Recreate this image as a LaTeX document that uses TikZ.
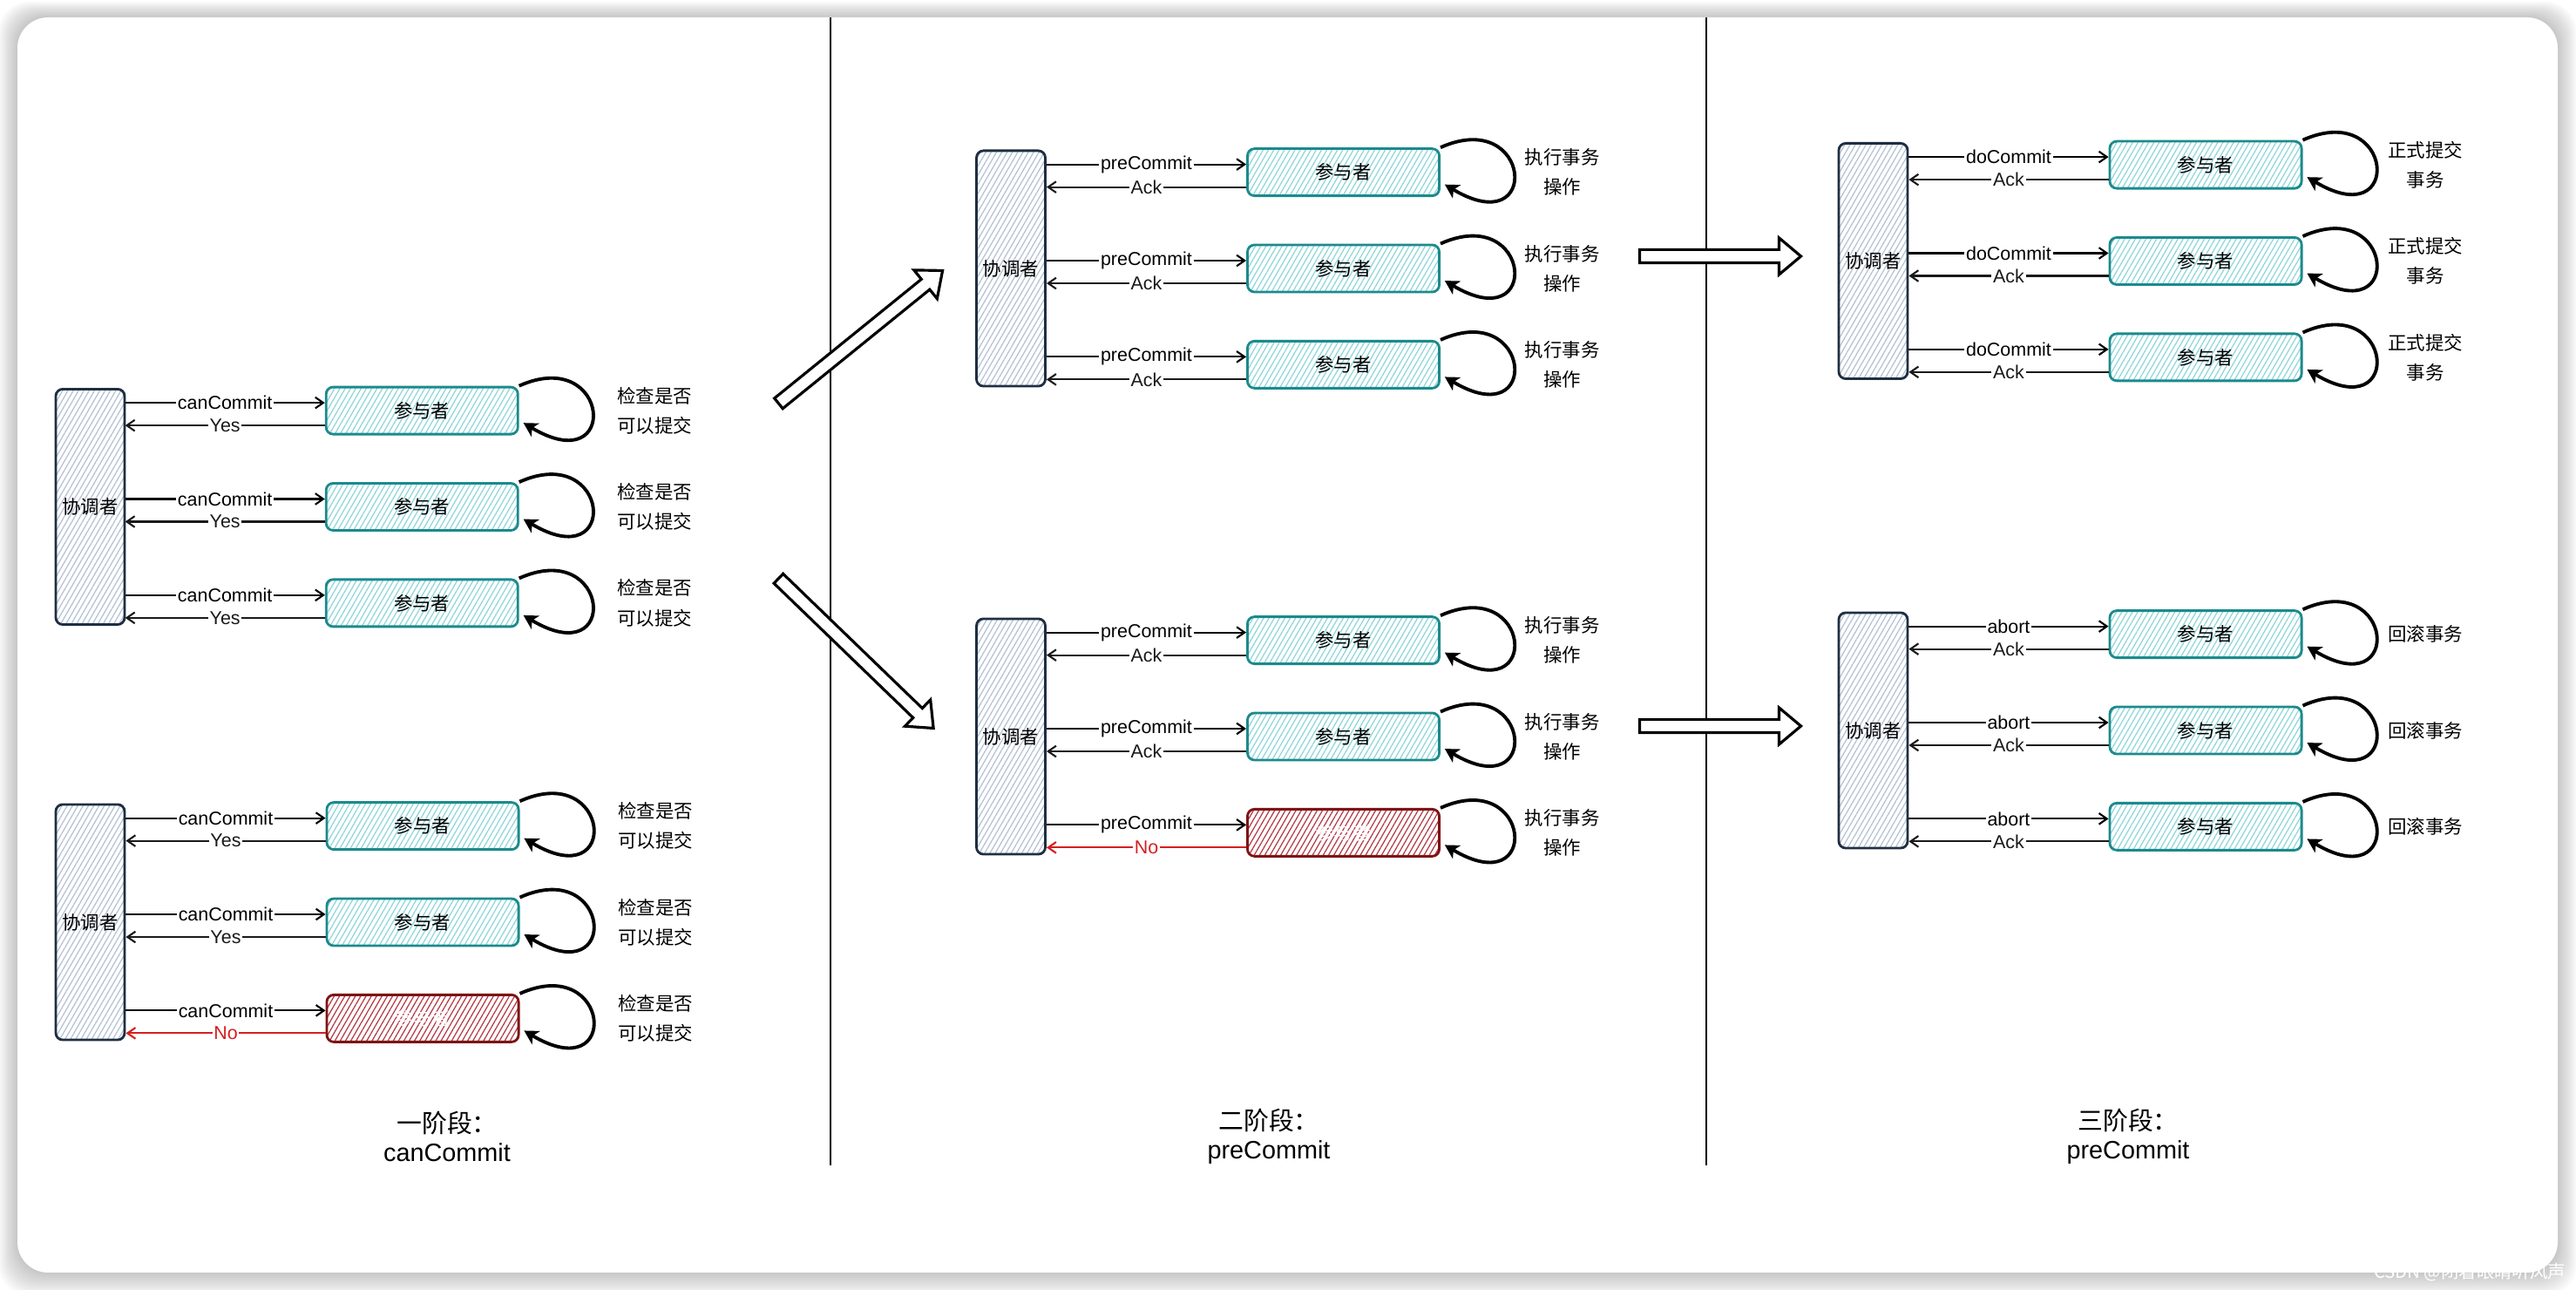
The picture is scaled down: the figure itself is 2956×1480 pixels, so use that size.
\documentclass[tikz,border=0pt]{standalone}
\usepackage{fontspec}
\setmainfont{Liberation Sans}
\newfontfamily\cjk{Noto Sans CJK SC}
\usetikzlibrary{positioning,patterns.meta,shapes.arrows,arrows.meta}

\definecolor{coordline}{HTML}{1F2E42}
\definecolor{coordhatch}{HTML}{B4C2D3}
\definecolor{tealline}{HTML}{1C8A8C}
\definecolor{tealhatch}{HTML}{8FD6DA}
\definecolor{tealtext}{HTML}{000000}
\definecolor{tealreply}{HTML}{1A1A1A}
\definecolor{redline}{HTML}{7D1414}
\definecolor{redhatch}{HTML}{B23A48}
\definecolor{redtext}{HTML}{FFFFFF}
\definecolor{redreply}{HTML}{D42020}
\newcommand{\cnsize}{\fontsize{6.1}{7}\selectfont}

\begin{document}
\begin{tikzpicture}[x=0.01cm,y=-0.01cm]
\tikzstyle{coord}=[rectangle, rounded corners=2.3pt, draw=coordline, line width=0.8pt, pattern={Lines[angle=60,distance=1.5pt,line width=0.35pt]}, pattern color=coordhatch, minimum width=0.79cm, minimum height=2.7cm, inner sep=0pt, font=\cjk\cnsize]
\tikzset{part/.style={rectangle, rounded corners=2.3pt, draw=#1line, line width=0.8pt, pattern={Lines[angle=60,distance=1.5pt,line width=0.35pt]}, pattern color=#1hatch, text=#1text, minimum width=2.2cm, minimum height=0.54cm, inner sep=0pt, font=\cjk\cnsize},
  reply/.style={-{Straight Barb[length=2.6pt,width=3.6pt]}, line width=0.6pt, draw=#1reply}}
\tikzstyle{ask}=[-{Straight Barb[length=2.6pt,width=3.6pt]}, line width=0.6pt]
\tikzstyle{msg}=[fill=white, inner sep=0.5pt, font=\cnsize]
\tikzstyle{selfloop}=[line width=1.1pt, -{Stealth[length=4.5pt,width=5pt,inset=1.2pt]}]
\tikzstyle{memo}=[align=center, inner sep=0pt, font=\cjk\fontsize{6.1}{9.7}\selectfont]
\tikzstyle{bigarrow}=[single arrow, draw=black, line width=0.9pt, fill=white, inner xsep=0pt, inner ysep=0.06cm, single arrow head extend=0.135cm, single arrow tip angle=80]
\tikzstyle{stage}=[align=center, font=\fontsize{8.2}{9.4}\selectfont]

\useasboundingbox (0,0) rectangle (2956,1480);
% card and its shadow
\foreach \i in {1,...,12}
  \fill[black, opacity=0.02, rounded corners=10pt] (20-1.8*\i,20-1.5*\i) rectangle (2935+1.8*\i,1460+2.2*\i);
\fill[white, rounded corners=10pt] (20,20) rectangle (2935,1460);

% stage separators
\draw[line width=0.5pt] (953,20) -- (953,1337);
\draw[line width=0.5pt] (1958,20) -- (1958,1337);

% one coordinator with three participants per group
\foreach \g/\cx/\cy/\cmd/\rep/\lastc/\lastrep/\gap/\memo in {
    1/103.5/581.5/canCommit/Yes/teal/Yes/1.12/{检查是否\\可以提交},
    2/103.5/1058/canCommit/Yes/red/No/1.12/{检查是否\\可以提交},
    3/1160/308/preCommit/Ack/teal/Ack/0.96/{执行事务\\操作},
    4/1160/845/preCommit/Ack/red/No/0.96/{执行事务\\操作},
    5/2149.5/299.5/doCommit/Ack/teal/Ack/0.97/{正式提交\\事务},
    6/2149.5/838/abort/Ack/teal/Ack/0.97/{回滚事务}}
{
  \node[coord] (c\g) at (\cx,\cy) {协调者};
  \node[part=teal, right=2.29cm of c\g] (p\g2) {参与者};
  \node[part=teal, above=0.535cm of p\g2] (p\g1) {参与者};
  \node[part=\lastc, below=0.535cm of p\g2] (p\g3) {参与者};
  \foreach \r/\kind/\ans in {1/teal/\rep, 2/teal/\rep, 3/\lastc/\lastrep} {
    \coordinate (in\g\r) at ([yshift=2.56pt]p\g\r.west);
    \coordinate (out\g\r) at ([yshift=-4.84pt]p\g\r.west);
    \draw[ask] (c\g.east |- in\g\r) -- node[msg] {\cmd} (in\g\r);
    \draw[reply=\kind] (out\g\r) -- node[msg, text=\kind reply] {\ans} (c\g.east |- out\g\r);
    \draw[selfloop] (p\g\r.north east) .. controls +(105,-47) and +(112,67) .. ([xshift=1.4pt,yshift=-4pt]p\g\r.east);
    \node[memo, right=\gap cm of p\g\r] (m\g\r) {\memo};
  }
}

% moves between stages
\node[bigarrow, minimum height=2.42cm, rotate=39] (toyes) at (984,389.5) {};
\node[bigarrow, minimum height=2.47cm, rotate=-44] (tono) at (979,746.5) {};
\node[bigarrow, minimum height=1.85cm] (tocommit) at (1969.5,294) {};
\node[bigarrow, minimum height=1.85cm] (toabort) at (1969.5,833) {};

\node[stage] (stage1) at (513,1303.5) {{\cjk 一阶段：}\\canCommit};
\node[stage] (stage2) at (1456,1303.5) {{\cjk 二阶段：}\\preCommit};
\node[stage] (stage3) at (2442,1303.5) {{\cjk 三阶段：}\\preCommit};

\node[text=white, font=\cjk\fontsize{5.8}{7}\selectfont] (mark) at (2834,1460) {CSDN @闭着眼睛听风声};
\end{tikzpicture}
\end{document}
